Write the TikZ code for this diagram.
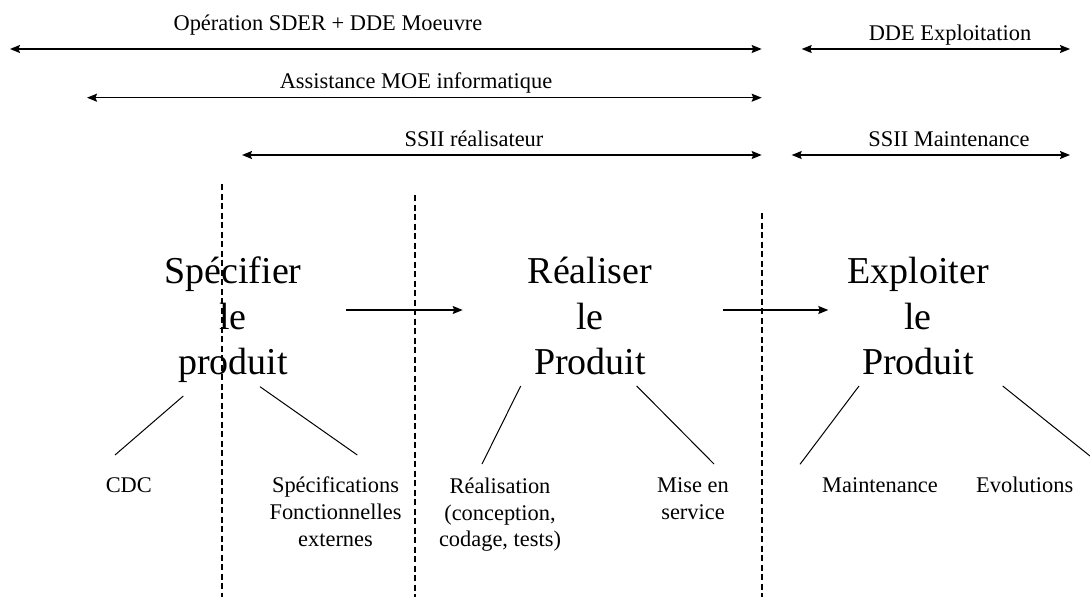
\documentclass[tikz,border=0pt]{standalone}
\usepackage{fontspec}
\setmainfont{Liberation Serif}
\usetikzlibrary{arrows.meta}
\begin{document}
\begin{tikzpicture}[x=1pt,y=-1pt,
  small/.style={font=\fontsize{22.4}{26.7}\selectfont, inner sep=0pt, align=center, anchor=base},
  big/.style={font=\fontsize{38}{45.8}\selectfont, inner sep=0pt, align=center, anchor=base},
  span/.style={line width=1.3pt, {Stealth[length=10pt,width=8pt,inset=1.5pt]}-{Stealth[length=10pt,width=8pt,inset=1.5pt]}},
  flow/.style={line width=1.3pt, -{Stealth[length=10pt,width=8pt,inset=1.5pt]}},
  sep/.style={line width=1.6pt, dash pattern=on 6pt off 3.5pt},
  branch/.style={line width=1pt}]
\useasboundingbox (0,0) rectangle (1090,597);

% span labels
\node[small] (lblA) at (328,30.7) {Opération SDER + DDE Moeuvre};
\node[small] (lblB) at (950,40) {DDE Exploitation};
\node[small] (lblC) at (416,88.3) {Assistance MOE informatique};
\node[small] (lblD) at (474,146.7) {SSII réalisateur};
\node[small] (lblE) at (949,146.7) {SSII Maintenance};

% span arrows
\coordinate (a1l) at (10,49);   \coordinate (a1r) at (761.7,49);
\coordinate (b1l) at (801.7,49); \coordinate (b1r) at (1070,49);
\coordinate (a2l) at (87,97.7);  \coordinate (a2r) at (761.7,97.7);
\coordinate (a3l) at (242,155);  \coordinate (a3r) at (761.7,155);
\coordinate (b3l) at (791.7,155); \coordinate (b3r) at (1070,155);
\draw[span] (a1l) -- (a1r);
\draw[span] (b1l) -- (b1r);
\draw[span] (a2l) -- (a2r);
\draw[span] (a3l) -- (a3r);
\draw[span] (b3l) -- (b3r);

% separators
\coordinate (s1t) at (221.7,184); \coordinate (s1b) at (221.7,597);
\coordinate (s2t) at (415,195);   \coordinate (s2b) at (415,597);
\coordinate (s3t) at (761.7,213); \coordinate (s3b) at (761.7,597);
\draw[sep] (s1t) -- (s1b);
\draw[sep] (s2t) -- (s2b);
\draw[sep] (s3t) -- (s3b);

% phases (base anchor = baseline of last line)
\node[big] (spec) at (233,374.9) {Spécifier\\le\\produit};
\node[big] (real) at (590,374.9) {Réaliser\\le\\Produit};
\node[big] (expl) at (918,374.9) {Exploiter\\le\\Produit};

\coordinate (f1s) at (346,310);   \coordinate (f1e) at (462.7,310);
\coordinate (f2s) at (723.3,310); \coordinate (f2e) at (828.3,310);
\draw[flow] (f1s) -- (f1e);
\draw[flow] (f2s) -- (f2e);

% deliverables (base anchor = baseline of last line)
\node[small] (cdc) at (128.8,492.7) {CDC};
\node[small] (sfe) at (335.5,546.1) {Spécifications\\Fonctionnelles\\externes};
\node[small] (rea) at (500,546.7) {Réalisation\\(conception,\\codage, tests)};
\node[small] (mes) at (693,519.4) {Mise en\\service};
\node[small] (mai) at (880,492.7) {Maintenance};
\node[small] (evo) at (1024.7,492.7) {Evolutions};

% branches
\coordinate (p1a) at (183.3,396);  \coordinate (c1a) at (115,455);
\coordinate (p1b) at (260,386.7);  \coordinate (c1b) at (357.3,455);
\coordinate (p2a) at (520.7,386);  \coordinate (c2a) at (482,464);
\coordinate (p2b) at (636.7,386);  \coordinate (c2b) at (714,464);
\coordinate (p3a) at (859,386);    \coordinate (c3a) at (800,464.3);
\coordinate (p3b) at (1002.7,386); \coordinate (c3b) at (1090,456);
\draw[branch] (p1a) -- (c1a);
\draw[branch] (p1b) -- (c1b);
\draw[branch] (p2a) -- (c2a);
\draw[branch] (p2b) -- (c2b);
\draw[branch] (p3a) -- (c3a);
\draw[branch] (p3b) -- (c3b);
\end{tikzpicture}
\end{document}
